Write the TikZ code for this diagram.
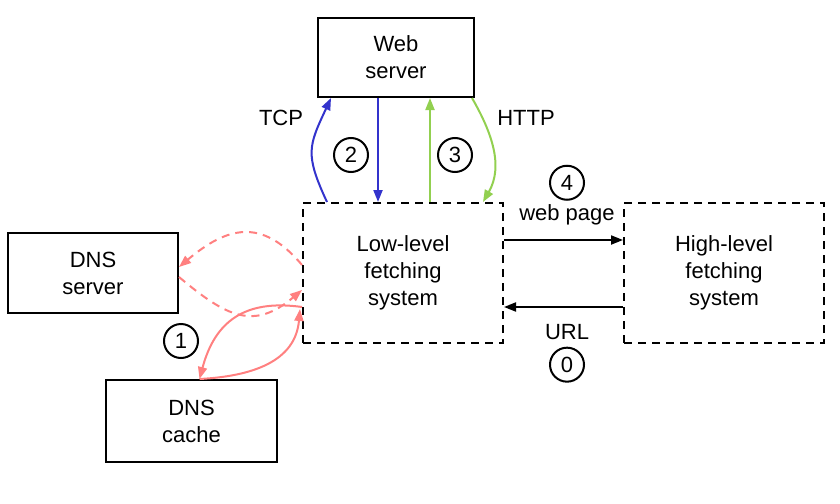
\documentclass[tikz,border=0pt]{standalone}
\usepackage{fontspec}
\setmainfont{Liberation Sans}
\usetikzlibrary{positioning,arrows.meta}
\definecolor{dnsred}{RGB}{255,128,128}
\definecolor{tcpblue}{RGB}{51,51,204}
\definecolor{httpgreen}{RGB}{146,208,80}

\begin{document}
\begin{tikzpicture}[x=1pt, y=-1pt, ->, >={Triangle[length=12pt,width=9pt]}, line width=2pt,
	font=\fontsize{22}{27}\selectfont,
	sysbox/.style={rectangle, draw, solid, align=center},
	fetchbox/.style={rectangle, draw, dash pattern=on 8pt off 6pt, align=center, minimum width=200pt, minimum height=140pt},
	num/.style={circle, draw, solid, minimum size=34pt, inner sep=0pt},
	lbl/.style={inner sep=1pt}]
	\useasboundingbox (0,0) rectangle (840,503);
	\node[fetchbox] (low) at (403,273)                           {Low-level\\fetching\\system};
	\node[fetchbox] (high) [right=119pt of low]                  {High-level\\fetching\\system};
	\node[sysbox, minimum width=156pt, minimum height=79pt] (web) at (396,57.5) {Web\\server};
	\node[sysbox, minimum width=170pt, minimum height=80pt] (dnss) at (93,273)  {DNS\\server};
	\node[sysbox, minimum width=171pt, minimum height=82pt] (dnsc) at (191.5,421) {DNS\\cache};
	
	
	\node[lbl] (tcp) at (281,118)   {TCP};
	\node[lbl] (http) at (526,118)  {HTTP};
	\node[lbl] (page) at (567,215)  {web page};
	\node[lbl] (url) at (567,332)   {URL};
	\node[num] (n1) at (181,341)    {1};
	\node[num] (n2) at (351,155)    {2};
	\node[num] (n3) at (455,155)    {3};
	\node[num] (n4) [above=2pt of page] {4};
	\node[num] (n0) [below=5pt of url]  {0};
	
	
	\draw[tcpblue] ([xshift=-76pt]low.north) to[out=115, in=-115, looseness=1.3] ([xshift=-65pt]web.south);
	\draw[tcpblue] ([xshift=-18pt]web.south) -- ([xshift=-18pt]web.south |- low.north);
	\draw[httpgreen] ([xshift=34pt]web.south |- low.north) -- ([xshift=34pt]web.south);
	\draw[httpgreen] ([xshift=76pt]web.south) to[out=-60, in=60] ([xshift=80pt]low.north);
	
	\draw ([yshift=33pt]low.east) -- ([yshift=33pt]high.west);
	\draw ([yshift=-34pt]high.west) -- ([yshift=-34pt]low.east);
	
	\draw[dnsred, dash pattern=on 8pt off 6pt] ([yshift=8pt]low.west) to[out=130, in=40, looseness=1.3] ([yshift=6pt]dnss.east);
	\draw[dnsred, dash pattern=on 8pt off 6pt] ([yshift=-4pt]dnss.east) to[out=-40, in=-140, looseness=1.3] ([yshift=-17pt]low.west);
	\draw[dnsred] ([yshift=-34pt]low.west) to[out=172, in=75, looseness=1.2] ([xshift=8pt]dnsc.north);
	\draw[dnsred] ([xshift=8pt]dnsc.north) to[out=3, in=-95, looseness=1.1] ([xshift=-2pt,yshift=-36pt]low.west);
\end{tikzpicture}
\end{document}
